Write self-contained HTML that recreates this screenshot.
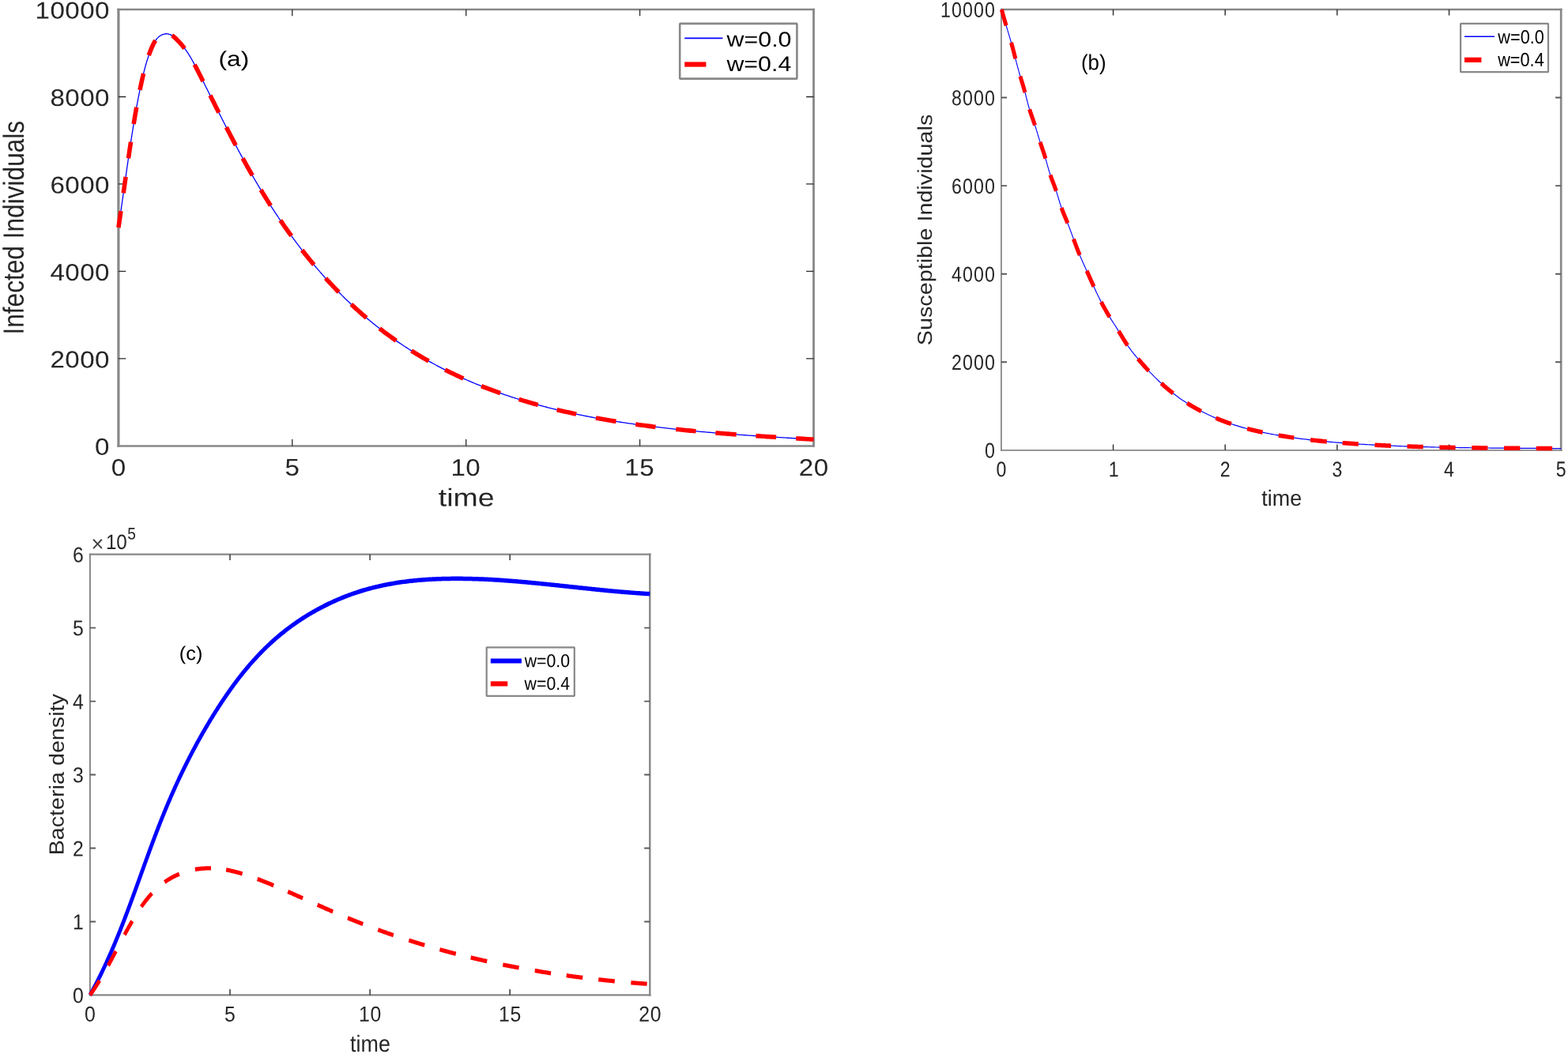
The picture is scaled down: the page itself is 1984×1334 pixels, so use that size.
<!DOCTYPE html>
<html lang="en"><head><meta charset="utf-8"><title>Figure</title><style>html,body{margin:0;padding:0;background:#fff;width:1984px;height:1334px;overflow:hidden}svg text{white-space:pre}</style></head>
<body>
<svg width="1984" height="1334" viewBox="0 0 1984 1334" font-family="'Liberation Sans', sans-serif" style="display:block">
<clipPath id="clipa"><rect x="145.9" y="8.0" width="885.10" height="560.40"/></clipPath>
<path d="M148.30 12.0H1030.90" stroke="#888888" stroke-width="2.5" fill="none"/>
<path d="M148.30 564.4H1030.90" stroke="#888888" stroke-width="2.5" fill="none"/>
<path d="M149.9 10.75V565.65" stroke="#888888" stroke-width="3.2" fill="none"/>
<path d="M1029.5 10.75V565.65" stroke="#888888" stroke-width="2.8" fill="none"/>
<path d="M369.80 564.4v-8.3M369.80 12.0v8.3M589.70 564.4v-8.3M589.70 12.0v8.3M809.60 564.4v-8.3M809.60 12.0v8.3" stroke="#2a2a2a" stroke-width="1.3" fill="none"/>
<path d="M149.9 453.92h9.4M1029.5 453.92h-9.4M149.9 343.44h9.4M1029.5 343.44h-9.4M149.9 232.96h9.4M1029.5 232.96h-9.4M149.9 122.48h9.4M1029.5 122.48h-9.4" stroke="#2a2a2a" stroke-width="1.3" fill="none"/>
<g clip-path="url(#clipa)"><path transform="matrix(1.0 0 0 1 149.9 0)" d="M0.00 288.00L0.32 285.85L0.63 283.70L0.95 281.55L1.26 279.40L1.57 277.25L1.89 275.10L2.20 272.95L2.51 270.79L2.82 268.64L3.12 266.49L3.43 264.34L3.74 262.19L4.05 260.04L4.35 257.89L4.66 255.74L4.96 253.59L5.27 251.44L5.57 249.29L5.88 247.14L6.18 244.99L6.49 242.84L6.79 240.69L7.10 238.54L7.40 236.39L7.71 234.24L8.01 232.09L8.32 229.94L8.62 227.79L8.93 225.65L9.23 223.50L9.54 221.35L9.85 219.20L10.15 217.05L10.46 214.90L10.77 212.75L11.08 210.60L11.39 208.45L11.70 206.30L12.02 204.15L12.33 202.00L12.64 199.85L12.96 197.70L13.28 195.56L13.59 193.41L13.91 191.26L14.23 189.11L14.55 186.96L14.88 184.81L15.20 182.66L15.53 180.51L15.85 178.36L16.18 176.22L16.51 174.07L16.85 171.92L17.18 169.77L17.52 167.62L17.86 165.47L18.20 163.33L18.55 161.18L18.89 159.03L19.24 156.89L19.60 154.74L19.95 152.60L20.31 150.45L20.67 148.31L21.04 146.17L21.41 144.03L21.78 141.89L22.16 139.75L22.54 137.61L22.93 135.47L23.32 133.33L23.71 131.20L24.11 129.06L24.51 126.93L24.92 124.80L25.33 122.67L25.75 120.54L26.17 118.41L26.60 116.29L27.03 114.16L27.47 112.04L27.92 109.92L28.37 107.80L28.83 105.68L29.29 103.56L29.76 101.45L30.23 99.34L30.72 97.23L31.21 95.12L31.71 93.02L32.23 90.91L32.76 88.82L33.31 86.72L33.87 84.63L34.45 82.54L35.04 80.45L35.66 78.37L36.30 76.29L36.96 74.22L37.64 72.15L38.35 70.08L39.08 68.02L39.84 65.97L40.63 63.92L41.45 61.87L42.30 59.83L43.19 57.81L44.14 55.82L45.17 53.89L46.30 52.03L47.54 50.26L48.92 48.61L50.45 47.09L52.16 45.73L54.01 44.57L55.98 43.65L58.02 43.03L60.09 42.75L62.17 42.86L64.21 43.33L66.19 44.10L68.08 45.15L69.87 46.41L71.56 47.84L73.19 49.38L74.76 50.98L76.29 52.60L77.79 54.22L79.24 55.86L80.66 57.52L82.04 59.20L83.38 60.90L84.68 62.63L85.94 64.39L87.16 66.17L88.35 67.97L89.51 69.80L90.64 71.64L91.74 73.50L92.82 75.38L93.88 77.27L94.92 79.18L95.95 81.09L96.96 83.02L97.96 84.95L98.95 86.88L99.94 88.82L100.92 90.76L101.91 92.70L102.89 94.64L103.87 96.58L104.85 98.53L105.83 100.47L106.81 102.41L107.79 104.35L108.77 106.30L109.74 108.24L110.72 110.18L111.70 112.13L112.68 114.07L113.65 116.01L114.63 117.96L115.60 119.90L116.58 121.84L117.56 123.79L118.53 125.73L119.51 127.67L120.49 129.61L121.46 131.55L122.44 133.49L123.42 135.44L124.40 137.38L125.38 139.32L126.36 141.26L127.34 143.19L128.32 145.13L129.31 147.07L130.29 149.01L131.28 150.94L132.26 152.88L133.25 154.81L134.24 156.74L135.23 158.68L136.22 160.61L137.22 162.54L138.21 164.47L139.21 166.40L140.21 168.32L141.21 170.25L142.21 172.18L143.22 174.10L144.23 176.02L145.24 177.94L146.25 179.86L147.26 181.78L148.28 183.70L149.29 185.62L150.32 187.53L151.34 189.44L152.37 191.35L153.39 193.26L154.43 195.17L155.46 197.08L156.50 198.99L157.54 200.89L158.58 202.79L159.63 204.69L160.68 206.59L161.73 208.49L162.79 210.38L163.85 212.27L164.92 214.16L165.98 216.05L167.05 217.94L168.13 219.83L169.21 221.71L170.29 223.59L171.38 225.47L172.47 227.34L173.56 229.22L174.66 231.09L175.77 232.96L176.88 234.83L177.99 236.69L179.10 238.56L180.23 240.42L181.35 242.28L182.48 244.13L183.62 245.99L184.76 247.84L185.90 249.69L187.05 251.53L188.21 253.37L189.37 255.22L190.53 257.05L191.70 258.89L192.87 260.72L194.05 262.55L195.23 264.37L196.42 266.20L197.61 268.02L198.81 269.83L200.02 271.65L201.22 273.46L202.44 275.26L203.65 277.07L204.88 278.87L206.10 280.66L207.34 282.46L208.57 284.25L209.82 286.03L211.07 287.82L212.32 289.60L213.58 291.37L214.84 293.14L216.11 294.91L217.38 296.68L218.66 298.44L219.94 300.19L221.23 301.95L222.53 303.69L223.83 305.44L225.13 307.18L226.44 308.91L227.76 310.65L229.08 312.37L230.41 314.10L231.74 315.82L233.08 317.53L234.42 319.24L235.77 320.95L237.12 322.65L238.48 324.34L239.84 326.04L241.21 327.72L242.59 329.41L243.97 331.08L245.35 332.76L246.75 334.42L248.14 336.09L249.55 337.75L250.96 339.40L252.37 341.05L253.79 342.69L255.22 344.33L256.65 345.96L258.08 347.59L259.53 349.21L260.98 350.83L262.43 352.44L263.89 354.04L265.36 355.64L266.83 357.24L268.30 358.83L269.79 360.41L271.28 361.99L272.77 363.56L274.27 365.13L275.78 366.69L277.29 368.24L278.81 369.79L280.34 371.33L281.87 372.87L283.40 374.40L284.95 375.92L286.49 377.44L288.05 378.95L289.61 380.46L291.18 381.96L292.75 383.45L294.33 384.94L295.91 386.42L297.51 387.89L299.10 389.36L300.71 390.82L302.32 392.28L303.93 393.72L305.56 395.17L307.18 396.60L308.82 398.03L310.46 399.45L312.11 400.86L313.76 402.27L315.42 403.67L317.09 405.06L318.76 406.44L320.44 407.82L322.13 409.19L323.82 410.56L325.51 411.91L327.22 413.26L328.93 414.60L330.64 415.94L332.36 417.27L334.09 418.59L335.82 419.90L337.56 421.21L339.31 422.50L341.06 423.80L342.81 425.08L344.58 426.35L346.34 427.62L348.12 428.88L349.89 430.14L351.68 431.38L353.47 432.62L355.26 433.85L357.06 435.07L358.86 436.29L360.68 437.50L362.49 438.69L364.31 439.89L366.14 441.07L367.97 442.25L369.80 443.41L371.64 444.57L373.49 445.73L375.34 446.87L377.20 448.01L379.06 449.13L380.92 450.25L382.79 451.37L384.66 452.47L386.54 453.57L388.43 454.65L390.31 455.73L392.21 456.80L394.10 457.87L396.01 458.92L397.91 459.97L399.82 461.01L401.74 462.04L403.65 463.06L405.58 464.07L407.50 465.08L409.43 466.08L411.37 467.07L413.31 468.05L415.25 469.02L417.20 469.99L419.15 470.95L421.10 471.90L423.06 472.84L425.02 473.77L426.99 474.70L428.96 475.62L430.93 476.53L432.91 477.44L434.88 478.33L436.87 479.22L438.85 480.10L440.84 480.98L442.84 481.84L444.83 482.70L446.83 483.55L448.83 484.40L450.84 485.23L452.85 486.06L454.86 486.89L456.87 487.70L458.89 488.51L460.91 489.31L462.93 490.10L464.95 490.89L466.98 491.67L469.01 492.44L471.05 493.20L473.08 493.96L475.12 494.71L477.16 495.45L479.20 496.19L481.25 496.92L483.29 497.64L485.34 498.36L487.40 499.07L489.45 499.77L491.51 500.47L493.56 501.16L495.62 501.84L497.69 502.51L499.75 503.18L501.82 503.85L503.89 504.50L505.96 505.15L508.03 505.79L510.10 506.43L512.18 507.06L514.26 507.69L516.34 508.30L518.42 508.92L520.50 509.52L522.59 510.12L524.68 510.72L526.76 511.30L528.86 511.88L530.95 512.46L533.04 513.03L535.14 513.59L537.24 514.15L539.34 514.70L541.44 515.25L543.54 515.79L545.64 516.33L547.75 516.86L549.86 517.38L551.97 517.90L554.08 518.41L556.19 518.92L558.30 519.42L560.41 519.92L562.53 520.41L564.65 520.90L566.77 521.38L568.89 521.85L571.01 522.32L573.13 522.79L575.25 523.25L577.38 523.70L579.51 524.15L581.63 524.60L583.76 525.04L585.89 525.48L588.02 525.91L590.15 526.33L592.29 526.75L594.42 527.17L596.56 527.58L598.69 527.99L600.83 528.39L602.97 528.79L605.11 529.18L607.25 529.57L609.39 529.96L611.53 530.34L613.67 530.71L615.82 531.09L617.96 531.45L620.11 531.82L622.25 532.18L624.40 532.53L626.55 532.88L628.69 533.23L630.84 533.57L632.99 533.91L635.14 534.24L637.29 534.58L639.44 534.90L641.60 535.23L643.75 535.55L645.90 535.86L648.05 536.17L650.21 536.48L652.36 536.79L654.52 537.09L656.67 537.39L658.83 537.68L660.98 537.97L663.14 538.26L665.30 538.54L667.45 538.83L669.61 539.10L671.77 539.38L673.93 539.65L676.08 539.92L678.24 540.18L680.40 540.44L682.56 540.70L684.72 540.96L686.88 541.21L689.04 541.46L691.19 541.71L693.35 541.95L695.51 542.20L697.67 542.43L699.83 542.67L701.99 542.90L704.15 543.14L706.31 543.36L708.47 543.59L710.63 543.81L712.79 544.03L714.95 544.25L717.11 544.47L719.28 544.68L721.44 544.89L723.60 545.10L725.76 545.30L727.92 545.51L730.08 545.71L732.24 545.91L734.41 546.11L736.57 546.30L738.73 546.49L740.89 546.68L743.06 546.87L745.22 547.06L747.38 547.24L749.54 547.43L751.71 547.61L753.87 547.79L756.04 547.97L758.20 548.14L760.36 548.31L762.53 548.49L764.69 548.66L766.86 548.83L769.02 548.99L771.18 549.16L773.35 549.32L775.51 549.48L777.68 549.65L779.84 549.81L782.01 549.96L784.17 550.12L786.34 550.28L788.51 550.43L790.67 550.58L792.84 550.73L795.00 550.89L797.17 551.03L799.34 551.18L801.50 551.33L803.67 551.48L805.84 551.62L808.00 551.77L810.17 551.91L812.34 552.05L814.51 552.19L816.67 552.33L818.84 552.47L821.01 552.61L823.18 552.75L825.35 552.89L827.52 553.02L829.68 553.16L831.85 553.30L834.02 553.43L836.19 553.57L838.36 553.70L840.53 553.83L842.70 553.97L844.87 554.10L847.04 554.23L849.21 554.36L851.38 554.50L853.55 554.63L855.72 554.76L857.89 554.89L860.06 555.02L862.23 555.15L864.40 555.28L866.57 555.41L868.74 555.54L870.91 555.67L873.08 555.81L875.26 555.94L877.43 556.07L879.60 556.20" stroke="#0000ff" stroke-width="1.3" fill="none" stroke-linejoin="round"/><path transform="matrix(1.0 0 0 1 149.9 0)" d="M0.00 288.00L0.32 285.85L0.63 283.70L0.95 281.55L1.26 279.40L1.57 277.25L1.89 275.10L2.20 272.95L2.51 270.79L2.82 268.64L3.12 266.49L3.43 264.34L3.74 262.19L4.05 260.04L4.35 257.89L4.66 255.74L4.96 253.59L5.27 251.44L5.57 249.29L5.88 247.14L6.18 244.99L6.49 242.84L6.79 240.69L7.10 238.54L7.40 236.39L7.71 234.24L8.01 232.09L8.32 229.94L8.62 227.79L8.93 225.65L9.23 223.50L9.54 221.35L9.85 219.20L10.15 217.05L10.46 214.90L10.77 212.75L11.08 210.60L11.39 208.45L11.70 206.30L12.02 204.15L12.33 202.00L12.64 199.85L12.96 197.70L13.28 195.56L13.59 193.41L13.91 191.26L14.23 189.11L14.55 186.96L14.88 184.81L15.20 182.66L15.53 180.51L15.85 178.36L16.18 176.22L16.51 174.07L16.85 171.92L17.18 169.77L17.52 167.62L17.86 165.47L18.20 163.33L18.55 161.18L18.89 159.03L19.24 156.89L19.60 154.74L19.95 152.60L20.31 150.45L20.67 148.31L21.04 146.17L21.41 144.03L21.78 141.89L22.16 139.75L22.54 137.61L22.93 135.47L23.32 133.33L23.71 131.20L24.11 129.06L24.51 126.93L24.92 124.80L25.33 122.67L25.75 120.54L26.17 118.41L26.60 116.29L27.03 114.16L27.47 112.04L27.92 109.92L28.37 107.80L28.83 105.68L29.29 103.56L29.76 101.45L30.23 99.34L30.72 97.23L31.21 95.12L31.71 93.02L32.23 90.91L32.76 88.82L33.31 86.72L33.87 84.63L34.45 82.54L35.04 80.45L35.66 78.37L36.30 76.29L36.96 74.22L37.64 72.15L38.35 70.08L39.08 68.02L39.84 65.97L40.63 63.92L41.45 61.87L42.30 59.83L43.19 57.81L44.14 55.82L45.17 53.89L46.30 52.03L47.54 50.26L48.92 48.61L50.45 47.09L52.16 45.73L54.01 44.57L55.98 43.65L58.02 43.03L60.09 42.75L62.17 42.86L64.21 43.33L66.19 44.10L68.08 45.15L69.87 46.41L71.56 47.84L73.19 49.38L74.76 50.98L76.29 52.60L77.79 54.22L79.24 55.86L80.66 57.52L82.04 59.20L83.38 60.90L84.68 62.63L85.94 64.39L87.16 66.17L88.35 67.97L89.51 69.80L90.64 71.64L91.74 73.50L92.82 75.38L93.88 77.27L94.92 79.18L95.95 81.09L96.96 83.02L97.96 84.95L98.95 86.88L99.94 88.82L100.92 90.76L101.91 92.70L102.89 94.64L103.87 96.58L104.85 98.53L105.83 100.47L106.81 102.41L107.79 104.35L108.77 106.30L109.74 108.24L110.72 110.18L111.70 112.13L112.68 114.07L113.65 116.01L114.63 117.96L115.60 119.90L116.58 121.84L117.56 123.79L118.53 125.73L119.51 127.67L120.49 129.61L121.46 131.55L122.44 133.49L123.42 135.44L124.40 137.38L125.38 139.32L126.36 141.26L127.34 143.19L128.32 145.13L129.31 147.07L130.29 149.01L131.28 150.94L132.26 152.88L133.25 154.81L134.24 156.74L135.23 158.68L136.22 160.61L137.22 162.54L138.21 164.47L139.21 166.40L140.21 168.32L141.21 170.25L142.21 172.18L143.22 174.10L144.23 176.02L145.24 177.94L146.25 179.86L147.26 181.78L148.28 183.70L149.29 185.62L150.32 187.53L151.34 189.44L152.37 191.35L153.39 193.26L154.43 195.17L155.46 197.08L156.50 198.99L157.54 200.89L158.58 202.79L159.63 204.69L160.68 206.59L161.73 208.49L162.79 210.38L163.85 212.27L164.92 214.16L165.98 216.05L167.05 217.94L168.13 219.83L169.21 221.71L170.29 223.59L171.38 225.47L172.47 227.34L173.56 229.22L174.66 231.09L175.77 232.96L176.88 234.83L177.99 236.69L179.10 238.56L180.23 240.42L181.35 242.28L182.48 244.13L183.62 245.99L184.76 247.84L185.90 249.69L187.05 251.53L188.21 253.37L189.37 255.22L190.53 257.05L191.70 258.89L192.87 260.72L194.05 262.55L195.23 264.37L196.42 266.20L197.61 268.02L198.81 269.83L200.02 271.65L201.22 273.46L202.44 275.26L203.65 277.07L204.88 278.87L206.10 280.66L207.34 282.46L208.57 284.25L209.82 286.03L211.07 287.82L212.32 289.60L213.58 291.37L214.84 293.14L216.11 294.91L217.38 296.68L218.66 298.44L219.94 300.19L221.23 301.95L222.53 303.69L223.83 305.44L225.13 307.18L226.44 308.91L227.76 310.65L229.08 312.37L230.41 314.10L231.74 315.82L233.08 317.53L234.42 319.24L235.77 320.95L237.12 322.65L238.48 324.34L239.84 326.04L241.21 327.72L242.59 329.41L243.97 331.08L245.35 332.76L246.75 334.42L248.14 336.09L249.55 337.75L250.96 339.40L252.37 341.05L253.79 342.69L255.22 344.33L256.65 345.96L258.08 347.59L259.53 349.21L260.98 350.83L262.43 352.44L263.89 354.04L265.36 355.64L266.83 357.24L268.30 358.83L269.79 360.41L271.28 361.99L272.77 363.56L274.27 365.13L275.78 366.69L277.29 368.24L278.81 369.79L280.34 371.33L281.87 372.87L283.40 374.40L284.95 375.92L286.49 377.44L288.05 378.95L289.61 380.46L291.18 381.96L292.75 383.45L294.33 384.94L295.91 386.42L297.51 387.89L299.10 389.36L300.71 390.82L302.32 392.28L303.93 393.72L305.56 395.17L307.18 396.60L308.82 398.03L310.46 399.45L312.11 400.86L313.76 402.27L315.42 403.67L317.09 405.06L318.76 406.44L320.44 407.82L322.13 409.19L323.82 410.56L325.51 411.91L327.22 413.26L328.93 414.60L330.64 415.94L332.36 417.27L334.09 418.59L335.82 419.90L337.56 421.21L339.31 422.50L341.06 423.80L342.81 425.08L344.58 426.35L346.34 427.62L348.12 428.88L349.89 430.14L351.68 431.38L353.47 432.62L355.26 433.85L357.06 435.07L358.86 436.29L360.68 437.50L362.49 438.69L364.31 439.89L366.14 441.07L367.97 442.25L369.80 443.41L371.64 444.57L373.49 445.73L375.34 446.87L377.20 448.01L379.06 449.13L380.92 450.25L382.79 451.37L384.66 452.47L386.54 453.57L388.43 454.65L390.31 455.73L392.21 456.80L394.10 457.87L396.01 458.92L397.91 459.97L399.82 461.01L401.74 462.04L403.65 463.06L405.58 464.07L407.50 465.08L409.43 466.08L411.37 467.07L413.31 468.05L415.25 469.02L417.20 469.99L419.15 470.95L421.10 471.90L423.06 472.84L425.02 473.77L426.99 474.70L428.96 475.62L430.93 476.53L432.91 477.44L434.88 478.33L436.87 479.22L438.85 480.10L440.84 480.98L442.84 481.84L444.83 482.70L446.83 483.55L448.83 484.40L450.84 485.23L452.85 486.06L454.86 486.89L456.87 487.70L458.89 488.51L460.91 489.31L462.93 490.10L464.95 490.89L466.98 491.67L469.01 492.44L471.05 493.20L473.08 493.96L475.12 494.71L477.16 495.45L479.20 496.19L481.25 496.92L483.29 497.64L485.34 498.36L487.40 499.07L489.45 499.77L491.51 500.47L493.56 501.16L495.62 501.84L497.69 502.51L499.75 503.18L501.82 503.85L503.89 504.50L505.96 505.15L508.03 505.79L510.10 506.43L512.18 507.06L514.26 507.69L516.34 508.30L518.42 508.92L520.50 509.52L522.59 510.12L524.68 510.72L526.76 511.30L528.86 511.88L530.95 512.46L533.04 513.03L535.14 513.59L537.24 514.15L539.34 514.70L541.44 515.25L543.54 515.79L545.64 516.33L547.75 516.86L549.86 517.38L551.97 517.90L554.08 518.41L556.19 518.92L558.30 519.42L560.41 519.92L562.53 520.41L564.65 520.90L566.77 521.38L568.89 521.85L571.01 522.32L573.13 522.79L575.25 523.25L577.38 523.70L579.51 524.15L581.63 524.60L583.76 525.04L585.89 525.48L588.02 525.91L590.15 526.33L592.29 526.75L594.42 527.17L596.56 527.58L598.69 527.99L600.83 528.39L602.97 528.79L605.11 529.18L607.25 529.57L609.39 529.96L611.53 530.34L613.67 530.71L615.82 531.09L617.96 531.45L620.11 531.82L622.25 532.18L624.40 532.53L626.55 532.88L628.69 533.23L630.84 533.57L632.99 533.91L635.14 534.24L637.29 534.58L639.44 534.90L641.60 535.23L643.75 535.55L645.90 535.86L648.05 536.17L650.21 536.48L652.36 536.79L654.52 537.09L656.67 537.39L658.83 537.68L660.98 537.97L663.14 538.26L665.30 538.54L667.45 538.83L669.61 539.10L671.77 539.38L673.93 539.65L676.08 539.92L678.24 540.18L680.40 540.44L682.56 540.70L684.72 540.96L686.88 541.21L689.04 541.46L691.19 541.71L693.35 541.95L695.51 542.20L697.67 542.43L699.83 542.67L701.99 542.90L704.15 543.14L706.31 543.36L708.47 543.59L710.63 543.81L712.79 544.03L714.95 544.25L717.11 544.47L719.28 544.68L721.44 544.89L723.60 545.10L725.76 545.30L727.92 545.51L730.08 545.71L732.24 545.91L734.41 546.11L736.57 546.30L738.73 546.49L740.89 546.68L743.06 546.87L745.22 547.06L747.38 547.24L749.54 547.43L751.71 547.61L753.87 547.79L756.04 547.97L758.20 548.14L760.36 548.31L762.53 548.49L764.69 548.66L766.86 548.83L769.02 548.99L771.18 549.16L773.35 549.32L775.51 549.48L777.68 549.65L779.84 549.81L782.01 549.96L784.17 550.12L786.34 550.28L788.51 550.43L790.67 550.58L792.84 550.73L795.00 550.89L797.17 551.03L799.34 551.18L801.50 551.33L803.67 551.48L805.84 551.62L808.00 551.77L810.17 551.91L812.34 552.05L814.51 552.19L816.67 552.33L818.84 552.47L821.01 552.61L823.18 552.75L825.35 552.89L827.52 553.02L829.68 553.16L831.85 553.30L834.02 553.43L836.19 553.57L838.36 553.70L840.53 553.83L842.70 553.97L844.87 554.10L847.04 554.23L849.21 554.36L851.38 554.50L853.55 554.63L855.72 554.76L857.89 554.89L860.06 555.02L862.23 555.15L864.40 555.28L866.57 555.41L868.74 555.54L870.91 555.67L873.08 555.81L875.26 555.94L877.43 556.07L879.60 556.20" stroke="#ff0000" stroke-width="5.6" fill="none" stroke-linejoin="round" stroke-dasharray="21.09 23.00 20.76 23.69 20.96 22.94 21.44 22.38 21.39 23.97 20.59 24.35 22.89 24.06 23.80 19.94 24.34 20.90 25.78 18.63 24.85 21.11 23.65 22.28 24.14 22.36 23.96 22.58 24.36 21.91 25.76 21.33 26.19 23.12 25.32 23.55 25.67 24.75 25.57 24.83 25.13 24.72 25.05 25.31 25.92 25.02 25.45 25.91 25.38 24.94 26.42 24.74 25.79 25.20 22.26 50.00"/></g>
<text transform="matrix(1.10500 0.001 0 1 120.045 575.872)" font-size="30.000" fill="#262626" letter-spacing="0.400">0</text>
<text transform="matrix(1.10500 0.001 0 1 63.411 465.355)" font-size="30.000" fill="#262626" letter-spacing="0.400">2000</text>
<text transform="matrix(1.10500 0.001 0 1 63.411 354.875)" font-size="30.000" fill="#262626" letter-spacing="0.400">4000</text>
<text transform="matrix(1.10500 0.001 0 1 63.411 244.395)" font-size="30.000" fill="#262626" letter-spacing="0.400">6000</text>
<text transform="matrix(1.10500 0.001 0 1 63.411 133.915)" font-size="30.000" fill="#262626" letter-spacing="0.400">8000</text>
<text transform="matrix(1.10500 0.001 0 1 44.533 23.435)" font-size="30.000" fill="#262626" letter-spacing="0.400">10000</text>
<text transform="matrix(1.10500 0.001 0 1 140.682 602.013)" font-size="30.000" fill="#262626" letter-spacing="0.400">0</text>
<text transform="matrix(1.10500 0.001 0 1 360.582 601.863)" font-size="30.000" fill="#262626" letter-spacing="0.400">5</text>
<text transform="matrix(1.10500 0.001 0 1 570.443 602.013)" font-size="30.000" fill="#262626" letter-spacing="0.400">10</text>
<text transform="matrix(1.10500 0.001 0 1 790.343 601.863)" font-size="30.000" fill="#262626" letter-spacing="0.400">15</text>
<text transform="matrix(1.10500 0.001 0 1 1010.843 602.013)" font-size="30.000" fill="#262626" letter-spacing="0.400">20</text>
<text transform="matrix(1.19165 0.001 0 1 554.838 640.407)" font-size="31.458" fill="#262626">time</text>
<text transform="matrix(0.001 -1 1.15737 0 29.714 423.566)" font-size="31.632" fill="#262626">Infected Individuals</text>
<text transform="matrix(1.19709 0.001 0 1 276.518 83.604)" font-size="26.488" fill="#000">(a)</text>
<rect x="860.2" y="29.9" width="148.20" height="69.70" fill="#fff" stroke="#888888" stroke-width="2.6" stroke-linejoin="bevel"/>
<path d="M866.2 48.3H914.4" stroke="#0000ff" stroke-width="1.8"/>
<path d="M866.2 81.5H893.4" stroke="#ff0000" stroke-width="6.2"/>
<text transform="matrix(1.13476 0.001 0 1 919.600 58.865)" font-size="26.761" fill="#000">w=0.0</text>
<text transform="matrix(1.13476 0.001 0 1 919.448 89.999)" font-size="26.761" fill="#000">w=0.4</text>
<clipPath id="clipb"><rect x="1262.9" y="8.0" width="713.80" height="565.80"/></clipPath>
<path d="M1266.00 12.0H1976.55" stroke="#888888" stroke-width="2.4" fill="none"/>
<path d="M1266.00 569.8H1976.55" stroke="#888888" stroke-width="1.8" fill="none"/>
<path d="M1266.9 10.80V570.70" stroke="#888888" stroke-width="1.8" fill="none"/>
<path d="M1975.2 10.80V570.70" stroke="#888888" stroke-width="2.7" fill="none"/>
<path d="M1408.56 569.8v-7.4M1408.56 12.0v7.4M1550.22 569.8v-7.4M1550.22 12.0v7.4M1691.88 569.8v-7.4M1691.88 12.0v7.4M1833.54 569.8v-7.4M1833.54 12.0v7.4" stroke="#383838" stroke-width="1.5" fill="none"/>
<path d="M1266.9 458.24h7.1M1975.2 458.24h-7.1M1266.9 346.68h7.1M1975.2 346.68h-7.1M1266.9 235.12h7.1M1975.2 235.12h-7.1M1266.9 123.56h7.1M1975.2 123.56h-7.1" stroke="#5a5a5a" stroke-width="1.9" fill="none"/>
<g clip-path="url(#clipb)"><path transform="matrix(0.92 0 0 1 1266.9 0)" d="M0.54 12.00L1.01 13.69L1.49 15.37L1.98 17.06L2.48 18.74L2.98 20.42L3.50 22.09L4.02 23.77L4.54 25.44L5.07 27.12L5.61 28.79L6.15 30.46L6.69 32.13L7.23 33.80L7.78 35.47L8.33 37.14L8.87 38.81L9.42 40.48L9.97 42.15L10.51 43.82L11.05 45.49L11.59 47.16L12.12 48.83L12.65 50.50L13.17 52.18L13.68 53.86L14.19 55.53L14.69 57.21L15.19 58.89L15.68 60.58L16.17 62.26L16.65 63.94L17.13 65.63L17.61 67.31L18.08 69.00L18.55 70.68L19.03 72.37L19.50 74.06L19.97 75.74L20.44 77.43L20.92 79.11L21.39 80.80L21.87 82.48L22.36 84.16L22.84 85.84L23.34 87.52L23.83 89.20L24.34 90.88L24.85 92.55L25.37 94.23L25.89 95.90L26.43 97.57L26.97 99.23L27.51 100.90L28.07 102.56L28.62 104.23L29.17 105.89L29.72 107.56L30.27 109.22L30.81 110.89L31.34 112.56L31.86 114.23L32.36 115.91L32.86 117.59L33.34 119.27L33.82 120.96L34.28 122.64L34.75 124.33L35.21 126.02L35.68 127.71L36.15 129.39L36.62 131.08L37.11 132.76L37.61 134.43L38.13 136.11L38.66 137.77L39.21 139.44L39.79 141.09L40.38 142.74L40.98 144.39L41.60 146.04L42.22 147.68L42.85 149.32L43.48 150.96L44.11 152.61L44.73 154.25L45.35 155.90L45.95 157.55L46.54 159.20L47.12 160.86L47.69 162.52L48.25 164.18L48.80 165.85L49.35 167.52L49.90 169.18L50.45 170.85L50.99 172.52L51.55 174.19L52.10 175.85L52.66 177.51L53.24 179.17L53.82 180.83L54.41 182.49L55.01 184.14L55.62 185.79L56.22 187.44L56.83 189.09L57.44 190.74L58.05 192.39L58.64 194.04L59.23 195.69L59.81 197.35L60.37 199.01L60.92 200.68L61.45 202.35L61.97 204.02L62.48 205.70L62.99 207.38L63.49 209.05L63.99 210.73L64.50 212.41L65.02 214.08L65.54 215.75L66.08 217.42L66.64 219.08L67.22 220.73L67.82 222.38L68.44 224.02L69.09 225.65L69.74 227.29L70.41 228.91L71.09 230.54L71.76 232.16L72.44 233.79L73.11 235.42L73.77 237.05L74.42 238.68L75.05 240.32L75.66 241.97L76.25 243.62L76.82 245.28L77.38 246.94L77.93 248.61L78.47 250.28L79.01 251.95L79.55 253.62L80.10 255.28L80.65 256.95L81.22 258.61L81.80 260.26L82.40 261.91L83.02 263.55L83.67 265.18L84.33 266.81L85.02 268.43L85.72 270.05L86.43 271.66L87.15 273.27L87.88 274.88L88.60 276.49L89.33 278.09L90.06 279.70L90.77 281.32L91.48 282.93L92.18 284.55L92.87 286.18L93.55 287.80L94.22 289.43L94.89 291.06L95.55 292.70L96.21 294.33L96.86 295.97L97.51 297.60L98.16 299.24L98.81 300.88L99.46 302.51L100.11 304.15L100.76 305.79L101.42 307.42L102.07 309.06L102.74 310.69L103.40 312.32L104.08 313.95L104.76 315.57L105.45 317.20L106.14 318.81L106.85 320.43L107.57 322.04L108.30 323.65L109.04 325.25L109.79 326.85L110.55 328.44L111.31 330.04L112.08 331.63L112.86 333.22L113.64 334.81L114.42 336.39L115.20 337.98L115.98 339.56L116.77 341.15L117.55 342.74L118.32 344.32L119.10 345.91L119.87 347.50L120.64 349.09L121.41 350.68L122.18 352.27L122.95 353.86L123.72 355.45L124.49 357.04L125.26 358.63L126.03 360.21L126.81 361.80L127.59 363.38L128.38 364.96L129.17 366.54L129.96 368.12L130.76 369.70L131.57 371.27L132.38 372.84L133.20 374.41L134.03 375.98L134.87 377.54L135.71 379.09L136.57 380.65L137.43 382.20L138.31 383.74L139.20 385.28L140.09 386.82L141.00 388.35L141.92 389.88L142.84 391.40L143.78 392.92L144.73 394.43L145.68 395.94L146.65 397.44L147.62 398.94L148.61 400.43L149.60 401.91L150.60 403.39L151.61 404.87L152.62 406.34L153.64 407.81L154.66 409.28L155.68 410.74L156.70 412.21L157.71 413.68L158.73 415.15L159.74 416.62L160.74 418.09L161.73 419.57L162.72 421.05L163.71 422.54L164.69 424.02L165.66 425.51L166.65 427.00L167.63 428.48L168.62 429.96L169.63 431.43L170.64 432.89L171.67 434.35L172.71 435.80L173.77 437.24L174.85 438.67L175.95 440.08L177.07 441.49L178.20 442.88L179.35 444.27L180.52 445.65L181.69 447.02L182.88 448.38L184.08 449.74L185.29 451.08L186.50 452.43L187.72 453.76L188.95 455.10L190.18 456.42L191.42 457.75L192.67 459.06L193.91 460.37L195.17 461.68L196.43 462.98L197.70 464.28L198.97 465.57L200.25 466.85L201.54 468.13L202.83 469.40L204.13 470.66L205.44 471.92L206.75 473.17L208.07 474.42L209.40 475.66L210.73 476.89L212.07 478.11L213.42 479.33L214.78 480.53L216.15 481.73L217.52 482.93L218.90 484.11L220.29 485.29L221.69 486.46L223.10 487.62L224.51 488.77L225.94 489.91L227.37 491.05L228.81 492.17L230.26 493.29L231.72 494.39L233.19 495.49L234.67 496.58L236.16 497.65L237.66 498.72L239.17 499.78L240.68 500.83L242.21 501.87L243.75 502.89L245.29 503.91L246.85 504.91L248.41 505.90L249.98 506.89L251.56 507.86L253.14 508.81L254.74 509.76L256.34 510.69L257.95 511.62L259.57 512.52L261.19 513.42L262.82 514.31L264.46 515.18L266.11 516.04L267.76 516.89L269.42 517.73L271.08 518.56L272.75 519.38L274.43 520.19L276.11 520.98L277.79 521.77L279.49 522.55L281.19 523.31L282.89 524.07L284.60 524.82L286.31 525.55L288.03 526.28L289.76 526.99L291.49 527.69L293.22 528.39L294.96 529.07L296.71 529.75L298.46 530.41L300.21 531.06L301.97 531.71L303.73 532.34L305.50 532.96L307.27 533.58L309.05 534.18L310.83 534.77L312.61 535.35L314.40 535.93L316.19 536.49L317.98 537.04L319.78 537.58L321.58 538.11L323.39 538.64L325.20 539.15L327.01 539.65L328.83 540.15L330.65 540.63L332.47 541.11L334.29 541.58L336.12 542.04L337.95 542.49L339.78 542.93L341.62 543.36L343.46 543.79L345.30 544.21L347.14 544.62L348.98 545.02L350.83 545.42L352.68 545.81L354.53 546.19L356.38 546.56L358.24 546.93L360.09 547.29L361.95 547.65L363.81 548.00L365.67 548.34L367.53 548.68L369.39 549.01L371.26 549.33L373.12 549.65L374.99 549.97L376.85 550.28L378.72 550.58L380.59 550.88L382.45 551.18L384.32 551.47L386.19 551.75L388.06 552.04L389.93 552.31L391.80 552.58L393.67 552.85L395.55 553.12L397.42 553.38L399.29 553.63L401.16 553.88L403.04 554.13L404.91 554.37L406.78 554.61L408.66 554.85L410.53 555.08L412.41 555.31L414.29 555.53L416.16 555.75L418.04 555.97L419.92 556.18L421.79 556.39L423.67 556.59L425.55 556.79L427.43 556.99L429.31 557.19L431.19 557.38L433.07 557.57L434.95 557.75L436.83 557.94L438.72 558.11L440.60 558.29L442.48 558.46L444.36 558.63L446.25 558.80L448.13 558.96L450.02 559.13L451.90 559.28L453.79 559.44L455.67 559.59L457.56 559.74L459.44 559.89L461.33 560.04L463.22 560.18L465.11 560.32L466.99 560.46L468.88 560.59L470.77 560.73L472.66 560.86L474.55 560.98L476.44 561.11L478.33 561.24L480.22 561.36L482.11 561.48L484.00 561.59L485.89 561.71L487.78 561.82L489.67 561.93L491.56 562.04L493.45 562.15L495.34 562.26L497.23 562.36L499.12 562.46L501.02 562.57L502.91 562.66L504.80 562.76L506.69 562.86L508.58 562.95L510.48 563.04L512.37 563.14L514.26 563.23L516.15 563.31L518.04 563.40L519.94 563.49L521.83 563.57L523.72 563.65L525.61 563.74L527.51 563.82L529.40 563.90L531.29 563.97L533.18 564.05L535.08 564.13L536.97 564.20L538.86 564.27L540.75 564.34L542.65 564.41L544.54 564.48L546.43 564.55L548.32 564.62L550.22 564.68L552.11 564.75L554.00 564.81L555.90 564.87L557.79 564.93L559.68 564.99L561.57 565.05L563.47 565.11L565.36 565.17L567.25 565.22L569.15 565.28L571.04 565.33L572.93 565.38L574.83 565.43L576.72 565.48L578.61 565.53L580.51 565.58L582.40 565.63L584.29 565.68L586.18 565.72L588.08 565.77L589.97 565.81L591.86 565.85L593.76 565.90L595.65 565.94L597.54 565.98L599.44 566.02L601.33 566.06L603.22 566.09L605.12 566.13L607.01 566.17L608.90 566.20L610.80 566.24L612.69 566.27L614.59 566.31L616.48 566.34L618.37 566.37L620.27 566.40L622.16 566.43L624.05 566.46L625.95 566.49L627.84 566.52L629.73 566.55L631.63 566.57L633.52 566.60L635.42 566.63L637.31 566.65L639.20 566.68L641.10 566.70L642.99 566.72L644.88 566.75L646.78 566.77L648.67 566.79L650.57 566.81L652.46 566.83L654.35 566.85L656.25 566.87L658.14 566.89L660.03 566.91L661.93 566.93L663.82 566.95L665.72 566.97L667.61 566.99L669.50 567.00L671.40 567.02L673.29 567.04L675.19 567.05L677.08 567.07L678.97 567.08L680.87 567.10L682.76 567.11L684.66 567.13L686.55 567.14L688.44 567.16L690.34 567.17L692.23 567.18L694.13 567.20L696.02 567.21L697.91 567.22L699.81 567.24L701.70 567.25L703.60 567.26L705.49 567.27L707.38 567.29L709.28 567.30L711.17 567.31L713.07 567.32L714.96 567.33L716.86 567.35L718.75 567.36L720.64 567.37L722.54 567.38L724.43 567.39L726.33 567.40L728.22 567.42L730.11 567.43L732.01 567.44L733.90 567.45L735.80 567.46L737.69 567.47L739.58 567.49L741.48 567.50L743.37 567.51L745.27 567.52L747.16 567.54L749.06 567.55L750.95 567.56L752.84 567.57L754.74 567.59L756.63 567.60L758.53 567.61L760.42 567.63L762.31 567.64L764.21 567.66L766.10 567.67L768.00 567.68L769.89 567.70" stroke="#0000ff" stroke-width="1.2" fill="none" stroke-linejoin="round"/><path transform="matrix(0.92 0 0 1 1266.9 0)" d="M0.54 12.00L1.01 13.69L1.49 15.37L1.98 17.06L2.48 18.74L2.98 20.42L3.50 22.09L4.02 23.77L4.54 25.44L5.07 27.12L5.61 28.79L6.15 30.46L6.69 32.13L7.23 33.80L7.78 35.47L8.33 37.14L8.87 38.81L9.42 40.48L9.97 42.15L10.51 43.82L11.05 45.49L11.59 47.16L12.12 48.83L12.65 50.50L13.17 52.18L13.68 53.86L14.19 55.53L14.69 57.21L15.19 58.89L15.68 60.58L16.17 62.26L16.65 63.94L17.13 65.63L17.61 67.31L18.08 69.00L18.55 70.68L19.03 72.37L19.50 74.06L19.97 75.74L20.44 77.43L20.92 79.11L21.39 80.80L21.87 82.48L22.36 84.16L22.84 85.84L23.34 87.52L23.83 89.20L24.34 90.88L24.85 92.55L25.37 94.23L25.89 95.90L26.43 97.57L26.97 99.23L27.51 100.90L28.07 102.56L28.62 104.23L29.17 105.89L29.72 107.56L30.27 109.22L30.81 110.89L31.34 112.56L31.86 114.23L32.36 115.91L32.86 117.59L33.34 119.27L33.82 120.96L34.28 122.64L34.75 124.33L35.21 126.02L35.68 127.71L36.15 129.39L36.62 131.08L37.11 132.76L37.61 134.43L38.13 136.11L38.66 137.77L39.21 139.44L39.79 141.09L40.38 142.74L40.98 144.39L41.60 146.04L42.22 147.68L42.85 149.32L43.48 150.96L44.11 152.61L44.73 154.25L45.35 155.90L45.95 157.55L46.54 159.20L47.12 160.86L47.69 162.52L48.25 164.18L48.80 165.85L49.35 167.52L49.90 169.18L50.45 170.85L50.99 172.52L51.55 174.19L52.10 175.85L52.66 177.51L53.24 179.17L53.82 180.83L54.41 182.49L55.01 184.14L55.62 185.79L56.22 187.44L56.83 189.09L57.44 190.74L58.05 192.39L58.64 194.04L59.23 195.69L59.81 197.35L60.37 199.01L60.92 200.68L61.45 202.35L61.97 204.02L62.48 205.70L62.99 207.38L63.49 209.05L63.99 210.73L64.50 212.41L65.02 214.08L65.54 215.75L66.08 217.42L66.64 219.08L67.22 220.73L67.82 222.38L68.44 224.02L69.09 225.65L69.74 227.29L70.41 228.91L71.09 230.54L71.76 232.16L72.44 233.79L73.11 235.42L73.77 237.05L74.42 238.68L75.05 240.32L75.66 241.97L76.25 243.62L76.82 245.28L77.38 246.94L77.93 248.61L78.47 250.28L79.01 251.95L79.55 253.62L80.10 255.28L80.65 256.95L81.22 258.61L81.80 260.26L82.40 261.91L83.02 263.55L83.67 265.18L84.33 266.81L85.02 268.43L85.72 270.05L86.43 271.66L87.15 273.27L87.88 274.88L88.60 276.49L89.33 278.09L90.06 279.70L90.77 281.32L91.48 282.93L92.18 284.55L92.87 286.18L93.55 287.80L94.22 289.43L94.89 291.06L95.55 292.70L96.21 294.33L96.86 295.97L97.51 297.60L98.16 299.24L98.81 300.88L99.46 302.51L100.11 304.15L100.76 305.79L101.42 307.42L102.07 309.06L102.74 310.69L103.40 312.32L104.08 313.95L104.76 315.57L105.45 317.20L106.14 318.81L106.85 320.43L107.57 322.04L108.30 323.65L109.04 325.25L109.79 326.85L110.55 328.44L111.31 330.04L112.08 331.63L112.86 333.22L113.64 334.81L114.42 336.39L115.20 337.98L115.98 339.56L116.77 341.15L117.55 342.74L118.32 344.32L119.10 345.91L119.87 347.50L120.64 349.09L121.41 350.68L122.18 352.27L122.95 353.86L123.72 355.45L124.49 357.04L125.26 358.63L126.03 360.21L126.81 361.80L127.59 363.38L128.38 364.96L129.17 366.54L129.96 368.12L130.76 369.70L131.57 371.27L132.38 372.84L133.20 374.41L134.03 375.98L134.87 377.54L135.71 379.09L136.57 380.65L137.43 382.20L138.31 383.74L139.20 385.28L140.09 386.82L141.00 388.35L141.92 389.88L142.84 391.40L143.78 392.92L144.73 394.43L145.68 395.94L146.65 397.44L147.62 398.94L148.61 400.43L149.60 401.91L150.60 403.39L151.61 404.87L152.62 406.34L153.64 407.81L154.66 409.28L155.68 410.74L156.70 412.21L157.71 413.68L158.73 415.15L159.74 416.62L160.74 418.09L161.73 419.57L162.72 421.05L163.71 422.54L164.69 424.02L165.66 425.51L166.65 427.00L167.63 428.48L168.62 429.96L169.63 431.43L170.64 432.89L171.67 434.35L172.71 435.80L173.77 437.24L174.85 438.67L175.95 440.08L177.07 441.49L178.20 442.88L179.35 444.27L180.52 445.65L181.69 447.02L182.88 448.38L184.08 449.74L185.29 451.08L186.50 452.43L187.72 453.76L188.95 455.10L190.18 456.42L191.42 457.75L192.67 459.06L193.91 460.37L195.17 461.68L196.43 462.98L197.70 464.28L198.97 465.57L200.25 466.85L201.54 468.13L202.83 469.40L204.13 470.66L205.44 471.92L206.75 473.17L208.07 474.42L209.40 475.66L210.73 476.89L212.07 478.11L213.42 479.33L214.78 480.53L216.15 481.73L217.52 482.93L218.90 484.11L220.29 485.29L221.69 486.46L223.10 487.62L224.51 488.77L225.94 489.91L227.37 491.05L228.81 492.17L230.26 493.29L231.72 494.39L233.19 495.49L234.67 496.58L236.16 497.65L237.66 498.72L239.17 499.78L240.68 500.83L242.21 501.87L243.75 502.89L245.29 503.91L246.85 504.91L248.41 505.90L249.98 506.89L251.56 507.86L253.14 508.81L254.74 509.76L256.34 510.69L257.95 511.62L259.57 512.52L261.19 513.42L262.82 514.31L264.46 515.18L266.11 516.04L267.76 516.89L269.42 517.73L271.08 518.56L272.75 519.38L274.43 520.19L276.11 520.98L277.79 521.77L279.49 522.55L281.19 523.31L282.89 524.07L284.60 524.82L286.31 525.55L288.03 526.28L289.76 526.99L291.49 527.69L293.22 528.39L294.96 529.07L296.71 529.75L298.46 530.41L300.21 531.06L301.97 531.71L303.73 532.34L305.50 532.96L307.27 533.58L309.05 534.18L310.83 534.77L312.61 535.35L314.40 535.93L316.19 536.49L317.98 537.04L319.78 537.58L321.58 538.11L323.39 538.64L325.20 539.15L327.01 539.65L328.83 540.15L330.65 540.63L332.47 541.11L334.29 541.58L336.12 542.04L337.95 542.49L339.78 542.93L341.62 543.36L343.46 543.79L345.30 544.21L347.14 544.62L348.98 545.02L350.83 545.42L352.68 545.81L354.53 546.19L356.38 546.56L358.24 546.93L360.09 547.29L361.95 547.65L363.81 548.00L365.67 548.34L367.53 548.68L369.39 549.01L371.26 549.33L373.12 549.65L374.99 549.97L376.85 550.28L378.72 550.58L380.59 550.88L382.45 551.18L384.32 551.47L386.19 551.75L388.06 552.04L389.93 552.31L391.80 552.58L393.67 552.85L395.55 553.12L397.42 553.38L399.29 553.63L401.16 553.88L403.04 554.13L404.91 554.37L406.78 554.61L408.66 554.85L410.53 555.08L412.41 555.31L414.29 555.53L416.16 555.75L418.04 555.97L419.92 556.18L421.79 556.39L423.67 556.59L425.55 556.79L427.43 556.99L429.31 557.19L431.19 557.38L433.07 557.57L434.95 557.75L436.83 557.94L438.72 558.11L440.60 558.29L442.48 558.46L444.36 558.63L446.25 558.80L448.13 558.96L450.02 559.13L451.90 559.28L453.79 559.44L455.67 559.59L457.56 559.74L459.44 559.89L461.33 560.04L463.22 560.18L465.11 560.32L466.99 560.46L468.88 560.59L470.77 560.73L472.66 560.86L474.55 560.98L476.44 561.11L478.33 561.24L480.22 561.36L482.11 561.48L484.00 561.59L485.89 561.71L487.78 561.82L489.67 561.93L491.56 562.04L493.45 562.15L495.34 562.26L497.23 562.36L499.12 562.46L501.02 562.57L502.91 562.66L504.80 562.76L506.69 562.86L508.58 562.95L510.48 563.04L512.37 563.14L514.26 563.23L516.15 563.31L518.04 563.40L519.94 563.49L521.83 563.57L523.72 563.65L525.61 563.74L527.51 563.82L529.40 563.90L531.29 563.97L533.18 564.05L535.08 564.13L536.97 564.20L538.86 564.27L540.75 564.34L542.65 564.41L544.54 564.48L546.43 564.55L548.32 564.62L550.22 564.68L552.11 564.75L554.00 564.81L555.90 564.87L557.79 564.93L559.68 564.99L561.57 565.05L563.47 565.11L565.36 565.17L567.25 565.22L569.15 565.28L571.04 565.33L572.93 565.38L574.83 565.43L576.72 565.48L578.61 565.53L580.51 565.58L582.40 565.63L584.29 565.68L586.18 565.72L588.08 565.77L589.97 565.81L591.86 565.85L593.76 565.90L595.65 565.94L597.54 565.98L599.44 566.02L601.33 566.06L603.22 566.09L605.12 566.13L607.01 566.17L608.90 566.20L610.80 566.24L612.69 566.27L614.59 566.31L616.48 566.34L618.37 566.37L620.27 566.40L622.16 566.43L624.05 566.46L625.95 566.49L627.84 566.52L629.73 566.55L631.63 566.57L633.52 566.60L635.42 566.63L637.31 566.65L639.20 566.68L641.10 566.70L642.99 566.72L644.88 566.75L646.78 566.77L648.67 566.79L650.57 566.81L652.46 566.83L654.35 566.85L656.25 566.87L658.14 566.89L660.03 566.91L661.93 566.93L663.82 566.95L665.72 566.97L667.61 566.99L669.50 567.00L671.40 567.02L673.29 567.04L675.19 567.05L677.08 567.07L678.97 567.08L680.87 567.10L682.76 567.11L684.66 567.13L686.55 567.14L688.44 567.16L690.34 567.17L692.23 567.18L694.13 567.20L696.02 567.21L697.91 567.22L699.81 567.24L701.70 567.25L703.60 567.26L705.49 567.27L707.38 567.29L709.28 567.30L711.17 567.31L713.07 567.32L714.96 567.33L716.86 567.35L718.75 567.36L720.64 567.37L722.54 567.38L724.43 567.39L726.33 567.40L728.22 567.42L730.11 567.43L732.01 567.44L733.90 567.45L735.80 567.46L737.69 567.47L739.58 567.49L741.48 567.50L743.37 567.51L745.27 567.52L747.16 567.54L749.06 567.55L750.95 567.56L752.84 567.57L754.74 567.59L756.63 567.60L758.53 567.61L760.42 567.63L762.31 567.64L764.21 567.66L766.10 567.67L768.00 567.68L769.89 567.70" stroke="#ff0000" stroke-width="5.5" fill="none" stroke-linejoin="round" stroke-dasharray="21.37 22.54 21.09 23.34 21.40 22.26 21.53 22.59 21.99 21.88 21.80 22.58 21.11 21.67 22.19 22.01 22.17 21.86 22.36 21.70 21.96 22.19 21.36 23.22 20.78 22.77 21.97 22.04 22.29 22.77 21.72 22.23 21.48 22.83 22.54 21.65 21.94 22.53 22.31 22.29 22.08 22.39 21.96 22.39 21.96 22.39 22.07 22.28 22.07 62.07"/></g>
<text transform="matrix(0.85500 0.001 0 1 1245.909 579.616)" font-size="27.100" fill="#262626" letter-spacing="1.270">0</text>
<text transform="matrix(0.85500 0.001 0 1 1203.993 468.022)" font-size="27.100" fill="#262626" letter-spacing="1.270">2000</text>
<text transform="matrix(0.85500 0.001 0 1 1203.993 356.462)" font-size="27.100" fill="#262626" letter-spacing="1.270">4000</text>
<text transform="matrix(0.85500 0.001 0 1 1203.993 244.902)" font-size="27.100" fill="#262626" letter-spacing="1.270">6000</text>
<text transform="matrix(0.85500 0.001 0 1 1203.993 133.342)" font-size="27.100" fill="#262626" letter-spacing="1.270">8000</text>
<text transform="matrix(0.85500 0.001 0 1 1190.021 21.782)" font-size="27.100" fill="#262626" letter-spacing="1.270">10000</text>
<text transform="matrix(0.85500 0.001 0 1 1260.457 603.216)" font-size="27.100" fill="#262626" letter-spacing="1.270">0</text>
<text transform="matrix(0.85500 0.001 0 1 1402.717 603.216)" font-size="27.100" fill="#262626" letter-spacing="1.270">1</text>
<text transform="matrix(0.85500 0.001 0 1 1543.777 603.351)" font-size="27.100" fill="#262626" letter-spacing="1.270">2</text>
<text transform="matrix(0.85500 0.001 0 1 1685.437 603.216)" font-size="27.100" fill="#262626" letter-spacing="1.270">3</text>
<text transform="matrix(0.85500 0.001 0 1 1827.097 603.216)" font-size="27.100" fill="#262626" letter-spacing="1.270">4</text>
<text transform="matrix(0.85500 0.001 0 1 1968.757 603.080)" font-size="27.100" fill="#262626" letter-spacing="1.270">5</text>
<text transform="matrix(0.96176 0.001 0 1 1596.195 639.949)" font-size="28.068" fill="#262626">time</text>
<text transform="matrix(0.001 -1 0.89584 0 1178.923 437.238)" font-size="28.768" fill="#262626">Susceptible Individuals</text>
<text transform="matrix(0.95001 0.001 0 1 1367.983 88.348)" font-size="27.239" fill="#000">(b)</text>
<rect x="1848.1" y="29.9" width="110.90" height="61.20" fill="#fff" stroke="#888888" stroke-width="2.2" stroke-linejoin="bevel"/>
<path d="M1853.0 46.3H1891.1" stroke="#0000ff" stroke-width="1.4"/>
<path d="M1853.0 75.8H1874.4" stroke="#ff0000" stroke-width="6.3"/>
<text transform="matrix(0.89626 0.001 0 1 1895.300 54.997)" font-size="24.225" fill="#000">w=0.0</text>
<text transform="matrix(0.89626 0.001 0 1 1895.191 83.727)" font-size="24.225" fill="#000">w=0.4</text>
<clipPath id="clipc"><rect x="109.9" y="697.7" width="713.90" height="565.70"/></clipPath>
<path d="M112.90 701.7H823.50" stroke="#888888" stroke-width="2.3" fill="none"/>
<path d="M112.90 1259.4H823.50" stroke="#888888" stroke-width="2.4" fill="none"/>
<path d="M113.9 700.55V1260.60" stroke="#888888" stroke-width="2.0" fill="none"/>
<path d="M822.3 700.55V1260.60" stroke="#888888" stroke-width="2.4" fill="none"/>
<path d="M291.00 1259.4v-7.4M291.00 701.7v7.4M468.10 1259.4v-7.4M468.10 701.7v7.4M645.20 1259.4v-7.4M645.20 701.7v7.4" stroke="#383838" stroke-width="1.5" fill="none"/>
<path d="M113.9 1166.45h7.1M822.3 1166.45h-7.1M113.9 1073.50h7.1M822.3 1073.50h-7.1M113.9 980.55h7.1M822.3 980.55h-7.1M113.9 887.60h7.1M822.3 887.60h-7.1M113.9 794.65h7.1M822.3 794.65h-7.1" stroke="#5a5a5a" stroke-width="1.9" fill="none"/>
<g clip-path="url(#clipc)"><path transform="matrix(0.87 0 0 1 113.9 0)" d="M0.00 1259.40L0.94 1257.93L1.87 1256.45L2.80 1254.98L3.72 1253.50L4.64 1252.02L5.55 1250.53L6.45 1249.05L7.35 1247.56L8.24 1246.07L9.13 1244.58L10.01 1243.08L10.89 1241.59L11.76 1240.09L12.63 1238.59L13.50 1237.09L14.35 1235.59L15.21 1234.08L16.05 1232.58L16.90 1231.07L17.74 1229.56L18.57 1228.04L19.40 1226.53L20.22 1225.01L21.04 1223.50L21.86 1221.98L22.67 1220.46L23.48 1218.94L24.28 1217.41L25.08 1215.89L25.88 1214.36L26.67 1212.83L27.45 1211.30L28.24 1209.77L29.02 1208.24L29.79 1206.70L30.56 1205.17L31.33 1203.63L32.09 1202.09L32.85 1200.55L33.61 1199.01L34.37 1197.47L35.12 1195.93L35.86 1194.38L36.61 1192.83L37.35 1191.29L38.08 1189.74L38.82 1188.19L39.55 1186.64L40.28 1185.08L41.00 1183.53L41.72 1181.98L42.44 1180.42L43.16 1178.87L43.87 1177.31L44.59 1175.75L45.29 1174.19L46.00 1172.63L46.70 1171.07L47.41 1169.51L48.10 1167.94L48.80 1166.38L49.50 1164.81L50.19 1163.25L50.88 1161.68L51.57 1160.12L52.25 1158.55L52.94 1156.98L53.62 1155.41L54.30 1153.84L54.98 1152.27L55.66 1150.70L56.33 1149.13L57.01 1147.55L57.68 1145.98L58.35 1144.41L59.02 1142.83L59.69 1141.26L60.36 1139.68L61.02 1138.11L61.69 1136.53L62.35 1134.95L63.01 1133.38L63.67 1131.80L64.34 1130.22L64.99 1128.64L65.65 1127.06L66.31 1125.49L66.97 1123.91L67.63 1122.33L68.28 1120.75L68.94 1119.17L69.59 1117.59L70.25 1116.01L70.90 1114.43L71.56 1112.85L72.21 1111.27L72.87 1109.69L73.52 1108.11L74.18 1106.53L74.83 1104.94L75.48 1103.36L76.14 1101.78L76.79 1100.20L77.45 1098.62L78.10 1097.04L78.76 1095.46L79.41 1093.88L80.07 1092.30L80.73 1090.72L81.38 1089.14L82.04 1087.56L82.70 1085.99L83.36 1084.41L84.02 1082.83L84.68 1081.25L85.35 1079.67L86.01 1078.10L86.67 1076.52L87.34 1074.94L88.01 1073.37L88.68 1071.79L89.35 1070.22L90.02 1068.64L90.69 1067.07L91.36 1065.49L92.04 1063.92L92.72 1062.35L93.39 1060.78L94.07 1059.21L94.76 1057.63L95.44 1056.07L96.13 1054.50L96.81 1052.93L97.51 1051.36L98.20 1049.79L98.89 1048.23L99.59 1046.66L100.29 1045.10L100.99 1043.53L101.69 1041.97L102.40 1040.41L103.11 1038.85L103.82 1037.29L104.53 1035.73L105.25 1034.17L105.97 1032.61L106.69 1031.06L107.41 1029.50L108.14 1027.95L108.87 1026.40L109.61 1024.84L110.34 1023.29L111.08 1021.75L111.83 1020.20L112.57 1018.65L113.32 1017.10L114.07 1015.56L114.83 1014.02L115.59 1012.47L116.35 1010.93L117.12 1009.39L117.89 1007.85L118.66 1006.32L119.43 1004.78L120.21 1003.25L120.99 1001.71L121.78 1000.18L122.57 998.65L123.36 997.12L124.16 995.59L124.95 994.07L125.76 992.54L126.56 991.02L127.37 989.49L128.18 987.97L129.00 986.45L129.82 984.93L130.64 983.42L131.47 981.90L132.30 980.38L133.13 978.87L133.96 977.36L134.80 975.85L135.65 974.34L136.49 972.83L137.34 971.33L138.20 969.82L139.05 968.32L139.91 966.82L140.78 965.32L141.65 963.82L142.52 962.32L143.39 960.83L144.27 959.33L145.15 957.84L146.04 956.35L146.93 954.86L147.82 953.37L148.72 951.88L149.62 950.40L150.52 948.92L151.43 947.44L152.34 945.96L153.25 944.48L154.17 943.00L155.09 941.52L156.02 940.05L156.95 938.58L157.88 937.11L158.82 935.64L159.76 934.17L160.70 932.71L161.65 931.24L162.60 929.78L163.56 928.32L164.52 926.86L165.48 925.41L166.45 923.95L167.42 922.50L168.39 921.05L169.37 919.60L170.36 918.15L171.34 916.70L172.33 915.26L173.33 913.82L174.32 912.38L175.33 910.94L176.33 909.50L177.34 908.06L178.35 906.63L179.37 905.20L180.39 903.77L181.42 902.34L182.45 900.91L183.48 899.49L184.52 898.07L185.56 896.65L186.61 895.23L187.66 893.82L188.71 892.40L189.77 890.99L190.83 889.58L191.90 888.18L192.97 886.78L194.05 885.38L195.13 883.98L196.22 882.58L197.31 881.19L198.40 879.80L199.50 878.42L200.61 877.04L201.72 875.66L202.83 874.28L203.95 872.91L205.08 871.54L206.21 870.17L207.35 868.81L208.49 867.45L209.63 866.10L210.78 864.75L211.94 863.40L213.10 862.06L214.27 860.72L215.45 859.39L216.62 858.05L217.81 856.73L219.00 855.41L220.19 854.09L221.40 852.77L222.60 851.47L223.82 850.16L225.04 848.86L226.26 847.57L227.49 846.28L228.73 844.99L229.98 843.71L231.23 842.43L232.48 841.16L233.74 839.90L235.01 838.64L236.29 837.38L237.57 836.13L238.86 834.89L240.15 833.65L241.45 832.42L242.76 831.19L244.08 829.97L245.40 828.75L246.73 827.54L248.06 826.34L249.40 825.14L250.75 823.95L252.11 822.76L253.47 821.58L254.84 820.41L256.22 819.24L257.60 818.08L258.99 816.92L260.39 815.77L261.80 814.63L263.21 813.50L264.63 812.37L266.06 811.25L267.50 810.13L268.94 809.03L270.40 807.93L271.85 806.83L273.32 805.75L274.79 804.67L276.27 803.59L277.76 802.53L279.26 801.47L280.76 800.42L282.27 799.38L283.78 798.34L285.31 797.31L286.84 796.29L288.37 795.27L289.91 794.27L291.46 793.27L293.02 792.28L294.58 791.29L296.15 790.31L297.73 789.34L299.31 788.38L300.90 787.43L302.49 786.48L304.09 785.54L305.70 784.61L307.31 783.68L308.93 782.77L310.55 781.86L312.18 780.96L313.82 780.07L315.46 779.18L317.11 778.30L318.76 777.43L320.42 776.57L322.08 775.72L323.75 774.87L325.43 774.04L327.11 773.21L328.79 772.39L330.48 771.57L332.18 770.77L333.88 769.97L335.59 769.19L337.30 768.41L339.01 767.63L340.73 766.87L342.46 766.12L344.19 765.37L345.92 764.63L347.66 763.90L349.41 763.18L351.15 762.47L352.91 761.76L354.66 761.07L356.42 760.38L358.19 759.70L359.96 759.03L361.73 758.37L363.51 757.72L365.29 757.08L367.08 756.44L368.87 755.81L370.66 755.20L372.46 754.59L374.26 753.99L376.06 753.40L377.87 752.82L379.68 752.25L381.50 751.68L383.31 751.13L385.14 750.58L386.96 750.05L388.79 749.52L390.62 749.00L392.45 748.50L394.29 748.00L396.13 747.51L397.97 747.03L399.82 746.56L401.67 746.09L403.52 745.64L405.38 745.20L407.23 744.76L409.09 744.34L410.95 743.92L412.82 743.51L414.69 743.11L416.56 742.72L418.43 742.34L420.30 741.97L422.18 741.60L424.06 741.24L425.94 740.89L427.82 740.55L429.71 740.22L431.60 739.90L433.49 739.58L435.38 739.27L437.27 738.97L439.17 738.68L441.07 738.39L442.97 738.11L444.87 737.84L446.77 737.58L448.68 737.33L450.58 737.08L452.49 736.84L454.40 736.60L456.31 736.38L458.22 736.16L460.14 735.95L462.05 735.74L463.97 735.54L465.89 735.35L467.81 735.17L469.73 734.99L471.65 734.82L473.57 734.65L475.49 734.49L477.42 734.34L479.35 734.19L481.27 734.05L483.20 733.92L485.13 733.79L487.06 733.67L488.99 733.55L490.92 733.44L492.85 733.33L494.78 733.23L496.71 733.14L498.65 733.05L500.58 732.97L502.52 732.89L504.45 732.82L506.38 732.76L508.32 732.69L510.25 732.64L512.19 732.59L514.13 732.54L516.06 732.50L518.00 732.46L519.93 732.43L521.87 732.40L523.81 732.38L525.74 732.36L527.68 732.35L529.61 732.34L531.55 732.33L533.48 732.33L535.42 732.34L537.35 732.34L539.29 732.36L541.22 732.37L543.15 732.39L545.09 732.41L547.02 732.44L548.95 732.47L550.88 732.51L552.82 732.54L554.75 732.59L556.68 732.63L558.61 732.68L560.54 732.73L562.47 732.79L564.40 732.85L566.33 732.91L568.26 732.98L570.19 733.05L572.11 733.12L574.04 733.20L575.97 733.28L577.90 733.36L579.82 733.44L581.75 733.53L583.68 733.62L585.60 733.72L587.53 733.81L589.46 733.91L591.38 734.02L593.31 734.12L595.23 734.23L597.16 734.34L599.08 734.45L601.01 734.57L602.93 734.69L604.85 734.81L606.78 734.93L608.70 735.05L610.63 735.18L612.55 735.31L614.47 735.44L616.39 735.57L618.32 735.71L620.24 735.85L622.16 735.99L624.08 736.13L626.00 736.27L627.93 736.42L629.85 736.56L631.77 736.71L633.69 736.86L635.61 737.02L637.53 737.17L639.45 737.32L641.37 737.48L643.29 737.64L645.21 737.80L647.13 737.96L649.05 738.12L650.97 738.29L652.89 738.45L654.81 738.62L656.73 738.78L658.65 738.95L660.57 739.12L662.49 739.29L664.41 739.46L666.33 739.63L668.25 739.81L670.17 739.98L672.09 740.15L674.01 740.33L675.93 740.50L677.85 740.68L679.76 740.86L681.68 741.03L683.60 741.21L685.52 741.39L687.44 741.57L689.36 741.75L691.28 741.93L693.20 742.10L695.11 742.28L697.03 742.46L698.95 742.64L700.87 742.82L702.79 743.00L704.71 743.18L706.63 743.36L708.55 743.54L710.46 743.72L712.38 743.90L714.30 744.07L716.22 744.25L718.14 744.43L720.06 744.60L721.98 744.78L723.90 744.96L725.82 745.13L727.74 745.31L729.66 745.48L731.57 745.65L733.49 745.83L735.41 746.00L737.33 746.17L739.25 746.34L741.17 746.51L743.09 746.67L745.01 746.84L746.93 747.00L748.85 747.17L750.77 747.33L752.70 747.49L754.62 747.65L756.54 747.81L758.46 747.97L760.38 748.12L762.30 748.28L764.22 748.43L766.14 748.58L768.07 748.73L769.99 748.88L771.91 749.03L773.83 749.17L775.76 749.31L777.68 749.45L779.60 749.59L781.52 749.73L783.45 749.86L785.37 750.00L787.29 750.13L789.22 750.25L791.14 750.38L793.07 750.50L794.99 750.62L796.92 750.74L798.84 750.86L800.77 750.97L802.69 751.08L804.62 751.19L806.55 751.30L808.47 751.40L810.40 751.50L812.33 751.60L814.25 751.70" stroke="#0000ff" stroke-width="5.5" fill="none" stroke-linejoin="round"/><path transform="matrix(0.87 0 0 1 113.9 0)" d="M-0.00 1259.40L0.92 1258.27L1.83 1257.15L2.73 1256.02L3.62 1254.88L4.51 1253.75L5.39 1252.61L6.26 1251.47L7.13 1250.33L7.99 1249.19L8.84 1248.04L9.68 1246.90L10.52 1245.75L11.35 1244.59L12.18 1243.44L13.00 1242.29L13.81 1241.13L14.62 1239.97L15.43 1238.81L16.23 1237.64L17.02 1236.48L17.81 1235.31L18.59 1234.15L19.37 1232.98L20.15 1231.81L20.92 1230.63L21.69 1229.46L22.45 1228.29L23.21 1227.11L23.97 1225.93L24.72 1224.75L25.47 1223.57L26.21 1222.39L26.96 1221.21L27.70 1220.03L28.44 1218.84L29.17 1217.66L29.91 1216.47L30.64 1215.28L31.37 1214.09L32.10 1212.91L32.82 1211.72L33.55 1210.53L34.27 1209.33L35.00 1208.14L35.72 1206.95L36.44 1205.76L37.16 1204.56L37.88 1203.37L38.60 1202.18L39.33 1200.98L40.05 1199.79L40.77 1198.59L41.49 1197.39L42.21 1196.20L42.94 1195.00L43.66 1193.81L44.39 1192.61L45.11 1191.41L45.84 1190.22L46.57 1189.02L47.30 1187.83L48.04 1186.63L48.77 1185.43L49.51 1184.24L50.25 1183.04L51.00 1181.85L51.74 1180.65L52.49 1179.46L53.25 1178.27L54.00 1177.07L54.76 1175.88L55.52 1174.69L56.29 1173.50L57.06 1172.31L57.84 1171.12L58.62 1169.93L59.40 1168.74L60.19 1167.55L60.99 1166.36L61.78 1165.18L62.59 1163.99L63.40 1162.81L64.21 1161.63L65.03 1160.45L65.86 1159.27L66.69 1158.10L67.53 1156.92L68.38 1155.76L69.23 1154.59L70.09 1153.43L70.96 1152.28L71.84 1151.12L72.72 1149.98L73.61 1148.84L74.51 1147.70L75.42 1146.57L76.33 1145.45L77.26 1144.33L78.19 1143.22L79.13 1142.12L80.08 1141.02L81.04 1139.94L82.01 1138.86L82.99 1137.79L83.98 1136.72L84.98 1135.67L86.00 1134.63L87.02 1133.60L88.05 1132.57L89.10 1131.56L90.15 1130.56L91.22 1129.57L92.30 1128.59L93.39 1127.62L94.49 1126.66L95.61 1125.72L96.73 1124.79L97.87 1123.87L99.03 1122.97L100.19 1122.07L101.37 1121.20L102.57 1120.34L103.77 1119.49L105.00 1118.65L106.23 1117.84L107.48 1117.03L108.74 1116.25L110.02 1115.48L111.32 1114.72L112.62 1113.99L113.95 1113.26L115.28 1112.56L116.63 1111.87L117.98 1111.20L119.35 1110.55L120.73 1109.91L122.13 1109.29L123.53 1108.69L124.94 1108.10L126.36 1107.53L127.79 1106.98L129.23 1106.45L130.67 1105.93L132.13 1105.43L133.59 1104.95L135.05 1104.49L136.53 1104.05L138.01 1103.62L139.49 1103.21L140.98 1102.82L142.47 1102.45L143.97 1102.10L145.47 1101.76L146.97 1101.44L148.48 1101.15L149.98 1100.87L151.49 1100.61L153.00 1100.37L154.51 1100.15L156.02 1099.94L157.53 1099.76L159.04 1099.59L160.56 1099.45L162.07 1099.32L163.58 1099.20L165.10 1099.11L166.61 1099.03L168.12 1098.97L169.64 1098.93L171.15 1098.90L172.67 1098.89L174.18 1098.90L175.69 1098.92L177.21 1098.95L178.72 1099.01L180.24 1099.07L181.75 1099.16L183.27 1099.25L184.78 1099.36L186.30 1099.49L187.81 1099.63L189.33 1099.78L190.84 1099.95L192.35 1100.13L193.87 1100.32L195.38 1100.52L196.89 1100.74L198.41 1100.97L199.92 1101.21L201.43 1101.47L202.94 1101.73L204.45 1102.01L205.96 1102.30L207.47 1102.60L208.98 1102.91L210.49 1103.23L212.00 1103.56L213.51 1103.90L215.02 1104.24L216.52 1104.60L218.03 1104.97L219.53 1105.35L221.04 1105.73L222.54 1106.13L224.04 1106.53L225.54 1106.94L227.04 1107.36L228.54 1107.78L230.04 1108.22L231.54 1108.66L233.04 1109.10L234.53 1109.56L236.03 1110.02L237.52 1110.48L239.01 1110.96L240.50 1111.43L241.99 1111.92L243.48 1112.40L244.97 1112.90L246.45 1113.39L247.94 1113.90L249.42 1114.40L250.90 1114.91L252.38 1115.43L253.86 1115.94L255.34 1116.47L256.81 1116.99L258.29 1117.52L259.76 1118.05L261.23 1118.58L262.70 1119.11L264.17 1119.65L265.64 1120.18L267.10 1120.72L268.56 1121.26L270.02 1121.80L271.48 1122.34L272.94 1122.89L274.40 1123.43L275.85 1123.98L277.30 1124.52L278.75 1125.07L280.20 1125.62L281.65 1126.16L283.10 1126.71L284.55 1127.26L285.99 1127.81L287.43 1128.37L288.87 1128.92L290.31 1129.47L291.75 1130.02L293.19 1130.58L294.63 1131.13L296.07 1131.68L297.50 1132.24L298.93 1132.79L300.37 1133.35L301.80 1133.91L303.23 1134.46L304.66 1135.02L306.09 1135.57L307.52 1136.13L308.95 1136.69L310.37 1137.24L311.80 1137.80L313.23 1138.36L314.65 1138.91L316.07 1139.47L317.50 1140.02L318.92 1140.58L320.35 1141.14L321.77 1141.69L323.19 1142.25L324.61 1142.80L326.03 1143.35L327.46 1143.91L328.88 1144.46L330.30 1145.01L331.72 1145.57L333.14 1146.12L334.56 1146.67L335.98 1147.22L337.40 1147.77L338.82 1148.32L340.24 1148.87L341.66 1149.41L343.08 1149.96L344.50 1150.51L345.92 1151.05L347.34 1151.59L348.76 1152.14L350.19 1152.68L351.61 1153.22L353.03 1153.76L354.45 1154.30L355.87 1154.83L357.30 1155.37L358.72 1155.90L360.15 1156.44L361.57 1156.97L363.00 1157.50L364.42 1158.03L365.85 1158.55L367.28 1159.08L368.71 1159.60L370.14 1160.13L371.57 1160.65L373.00 1161.17L374.43 1161.69L375.86 1162.20L377.29 1162.72L378.73 1163.23L380.16 1163.74L381.60 1164.25L383.04 1164.75L384.48 1165.26L385.92 1165.76L387.36 1166.27L388.80 1166.77L390.24 1167.26L391.68 1167.76L393.13 1168.26L394.57 1168.75L396.02 1169.24L397.46 1169.73L398.91 1170.22L400.36 1170.70L401.81 1171.19L403.26 1171.67L404.71 1172.15L406.16 1172.63L407.61 1173.11L409.06 1173.58L410.52 1174.06L411.97 1174.53L413.43 1175.00L414.89 1175.47L416.34 1175.94L417.80 1176.40L419.26 1176.87L420.72 1177.33L422.18 1177.79L423.64 1178.25L425.11 1178.70L426.57 1179.16L428.03 1179.61L429.50 1180.07L430.96 1180.52L432.43 1180.96L433.90 1181.41L435.37 1181.86L436.84 1182.30L438.31 1182.74L439.78 1183.18L441.25 1183.62L442.72 1184.06L444.19 1184.49L445.67 1184.92L447.14 1185.36L448.61 1185.79L450.09 1186.21L451.57 1186.64L453.04 1187.07L454.52 1187.49L456.00 1187.91L457.48 1188.33L458.96 1188.75L460.44 1189.17L461.92 1189.58L463.41 1190.00L464.89 1190.41L466.37 1190.82L467.86 1191.23L469.34 1191.63L470.83 1192.04L472.32 1192.44L473.80 1192.84L475.29 1193.24L476.78 1193.64L478.27 1194.04L479.76 1194.44L481.25 1194.83L482.74 1195.22L484.23 1195.61L485.73 1196.00L487.22 1196.39L488.71 1196.78L490.21 1197.16L491.70 1197.54L493.20 1197.92L494.70 1198.30L496.19 1198.68L497.69 1199.06L499.19 1199.43L500.69 1199.80L502.19 1200.18L503.69 1200.55L505.19 1200.91L506.69 1201.28L508.20 1201.65L509.70 1202.01L511.20 1202.37L512.71 1202.73L514.21 1203.09L515.72 1203.45L517.22 1203.80L518.73 1204.16L520.24 1204.51L521.74 1204.86L523.25 1205.21L524.76 1205.56L526.27 1205.90L527.78 1206.25L529.29 1206.59L530.80 1206.93L532.31 1207.27L533.82 1207.61L535.34 1207.95L536.85 1208.28L538.36 1208.62L539.88 1208.95L541.39 1209.28L542.91 1209.61L544.42 1209.94L545.94 1210.26L547.46 1210.59L548.97 1210.91L550.49 1211.23L552.01 1211.55L553.53 1211.87L555.05 1212.19L556.57 1212.50L558.09 1212.82L559.61 1213.13L561.13 1213.44L562.65 1213.75L564.17 1214.06L565.70 1214.36L567.22 1214.67L568.74 1214.97L570.27 1215.27L571.79 1215.57L573.31 1215.87L574.84 1216.17L576.37 1216.47L577.89 1216.76L579.42 1217.05L580.95 1217.34L582.47 1217.63L584.00 1217.92L585.53 1218.21L587.06 1218.49L588.59 1218.78L590.12 1219.06L591.65 1219.34L593.18 1219.62L594.71 1219.90L596.24 1220.18L597.77 1220.45L599.30 1220.73L600.83 1221.00L602.37 1221.27L603.90 1221.54L605.43 1221.81L606.97 1222.07L608.50 1222.34L610.04 1222.60L611.57 1222.86L613.11 1223.12L614.64 1223.38L616.18 1223.64L617.71 1223.90L619.25 1224.15L620.79 1224.41L622.32 1224.66L623.86 1224.91L625.40 1225.16L626.94 1225.41L628.48 1225.65L630.01 1225.90L631.55 1226.14L633.09 1226.38L634.63 1226.62L636.17 1226.86L637.71 1227.10L639.25 1227.34L640.79 1227.57L642.33 1227.81L643.88 1228.04L645.42 1228.27L646.96 1228.50L648.50 1228.73L650.04 1228.95L651.59 1229.18L653.13 1229.40L654.67 1229.62L656.22 1229.85L657.76 1230.06L659.30 1230.28L660.85 1230.50L662.39 1230.72L663.94 1230.93L665.48 1231.14L667.03 1231.35L668.57 1231.56L670.12 1231.77L671.66 1231.98L673.21 1232.19L674.76 1232.39L676.30 1232.59L677.85 1232.80L679.39 1233.00L680.94 1233.20L682.49 1233.39L684.04 1233.59L685.58 1233.79L687.13 1233.98L688.68 1234.17L690.23 1234.36L691.77 1234.55L693.32 1234.74L694.87 1234.93L696.42 1235.11L697.97 1235.30L699.52 1235.48L701.07 1235.66L702.61 1235.84L704.16 1236.02L705.71 1236.20L707.26 1236.38L708.81 1236.55L710.36 1236.73L711.91 1236.90L713.46 1237.07L715.01 1237.24L716.56 1237.41L718.11 1237.58L719.66 1237.74L721.21 1237.91L722.76 1238.07L724.31 1238.23L725.86 1238.40L727.41 1238.55L728.96 1238.71L730.52 1238.87L732.07 1239.03L733.62 1239.18L735.17 1239.33L736.72 1239.49L738.27 1239.64L739.82 1239.79L741.37 1239.93L742.92 1240.08L744.47 1240.23L746.03 1240.37L747.58 1240.51L749.13 1240.66L750.68 1240.80L752.23 1240.94L753.78 1241.07L755.33 1241.21L756.89 1241.35L758.44 1241.48L759.99 1241.61L761.54 1241.74L763.09 1241.88L764.64 1242.00L766.19 1242.13L767.74 1242.26L769.30 1242.38L770.85 1242.51L772.40 1242.63L773.95 1242.75L775.50 1242.87L777.05 1242.99L778.60 1243.11L780.15 1243.23L781.70 1243.35L783.25 1243.46L784.81 1243.57L786.36 1243.69L787.91 1243.80L789.46 1243.91L791.01 1244.01L792.56 1244.12L794.11 1244.23L795.66 1244.33L797.21 1244.44L798.76 1244.54L800.31 1244.64L801.86 1244.74L803.41 1244.84L804.96 1244.94L806.51 1245.03L808.06 1245.13L809.61 1245.22L811.15 1245.32L812.70 1245.41L814.25 1245.50" stroke="#ff0000" stroke-width="5.3" fill="none" stroke-linejoin="round" stroke-dasharray="22.98 22.91 21.16 24.35 20.71 22.31 23.00 23.42 23.70 23.70 23.26 22.02 24.15 22.84 25.06 22.07 23.32 22.82 24.16 22.95 23.50 23.07 23.44 23.38 23.68 22.68 24.10 22.14 24.12 23.46 23.67 23.44 23.62 22.68 23.85 23.06 23.71 23.72 23.41 54.15"/></g>
<text transform="matrix(0.91000 0.001 0 1 92.044 1269.184)" font-size="27.300" fill="#262626" letter-spacing="0.749">0</text>
<text transform="matrix(0.91000 0.001 0 1 92.044 1176.234)" font-size="27.300" fill="#262626" letter-spacing="0.749">1</text>
<text transform="matrix(0.91000 0.001 0 1 92.044 1083.421)" font-size="27.300" fill="#262626" letter-spacing="0.749">2</text>
<text transform="matrix(0.91000 0.001 0 1 92.044 990.334)" font-size="27.300" fill="#262626" letter-spacing="0.749">3</text>
<text transform="matrix(0.91000 0.001 0 1 92.044 897.384)" font-size="27.300" fill="#262626" letter-spacing="0.749">4</text>
<text transform="matrix(0.91000 0.001 0 1 92.044 804.298)" font-size="27.300" fill="#262626" letter-spacing="0.749">5</text>
<text transform="matrix(0.91000 0.001 0 1 92.044 711.484)" font-size="27.300" fill="#262626" letter-spacing="0.749">6</text>
<text transform="matrix(0.91000 0.001 0 1 106.992 1292.784)" font-size="27.300" fill="#262626" letter-spacing="0.749">0</text>
<text transform="matrix(0.91000 0.001 0 1 284.092 1292.648)" font-size="27.300" fill="#262626" letter-spacing="0.749">5</text>
<text transform="matrix(0.91000 0.001 0 1 453.943 1292.784)" font-size="27.300" fill="#262626" letter-spacing="0.749">10</text>
<text transform="matrix(0.91000 0.001 0 1 631.043 1292.648)" font-size="27.300" fill="#262626" letter-spacing="0.749">15</text>
<text transform="matrix(0.91000 0.001 0 1 808.143 1292.784)" font-size="27.300" fill="#262626" letter-spacing="0.749">20</text>
<text transform="matrix(0.91796 0.001 0 1 443.097 1331.034)" font-size="29.288" fill="#262626">time</text>
<text transform="matrix(0.001 -1 0.90873 0 80.555 1082.333)" font-size="28.715" fill="#262626">Bacteria density</text>
<text transform="matrix(1.03572 0.001 0 1 226.817 835.227)" font-size="24.450" fill="#000">(c)</text>
<rect x="615.7" y="819.3" width="111.10" height="61.50" fill="#fff" stroke="#888888" stroke-width="2.2" stroke-linejoin="bevel"/>
<path d="M620.8 836.5H659.9" stroke="#0000ff" stroke-width="6.0"/>
<path d="M620.8 865.4H642.3" stroke="#ff0000" stroke-width="6.2"/>
<text transform="matrix(0.91095 0.001 0 1 663.700 844.208)" font-size="23.380" fill="#000">w=0.0</text>
<text transform="matrix(0.91095 0.001 0 1 663.594 872.937)" font-size="23.380" fill="#000">w=0.4</text>
<text transform="matrix(0.94531 0.001 0 1 115.397 697.964)" font-size="28.764" fill="#444444">×</text>
<text transform="matrix(0.91788 0.001 0 1 133.880 695.036)" font-size="26.431" fill="#262626">10</text>
<text transform="matrix(0.91525 0.001 0 1 161.134 682.491)" font-size="20.932" fill="#262626">5</text>
</svg>
</body></html>
